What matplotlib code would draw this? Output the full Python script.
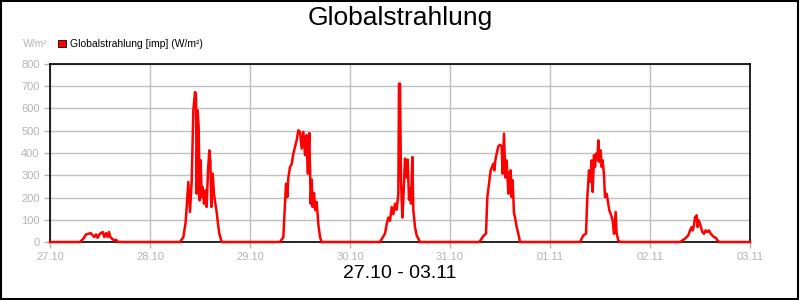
import numpy as np
import matplotlib
matplotlib.use("Agg")
import matplotlib.pyplot as plt
from matplotlib.patches import Rectangle

plt.rcParams['font.family'] = ['Liberation Sans', 'DejaVu Sans']

# hours since 27.10 00:00 and W/m2
day1_h = [7.2, 8.0, 8.64, 9.2, 9.76, 10.24, 10.64, 11.04, 11.44, 11.84, 12.24, 12.64,
          13.04, 13.44, 13.84, 14.16, 14.48, 14.88, 15.36, 15.84, 16.4]
day1_v = [0, 15, 34, 37, 40, 30, 22, 34, 19, 34, 40, 45,
          22, 40, 22, 45, 22, 15, 7, 10, 0]

day2_h = [31.2, 32.0, 32.56, 32.8, 33.2, 33.6, 34.0, 34.4, 34.8, 35.04, 35.2, 35.44,
          35.68, 35.92, 36.16, 36.4, 36.64, 36.96, 37.28, 37.6, 37.92, 38.24, 38.48,
          38.72, 39.04, 39.36, 39.68, 40.0, 40.32, 40.64, 41.2]
day2_v = [0, 22, 90, 157, 270, 135, 270, 591, 674, 666, 217, 591,
          516, 187, 367, 202, 247, 172, 232, 157, 322, 412, 367,
          157, 307, 217, 172, 135, 82, 37, 0]

day3_h = [55.2, 56.0, 56.64, 56.96, 57.2, 57.6, 58.0, 58.4, 59.2, 59.6, 60.0, 60.4,
          60.8, 61.2, 61.6, 61.84, 62.24, 62.56, 62.8, 63.04, 63.36, 63.68, 64.0,
          64.4, 64.8, 65.2]
day3_v = [0, 22, 262, 202, 289, 337, 350, 397, 457, 502, 495, 420,
          495, 390, 480, 307, 490, 172, 280, 157, 220, 143, 180,
          80, 22, 0]

day4_h = [79.2, 80.4, 80.8, 81.2, 81.6, 82.0, 82.4, 82.8, 83.2, 83.6, 83.76, 84.0,
          84.24, 84.56, 84.8, 85.2, 85.6, 85.84, 86.16, 86.4, 86.64, 86.96, 87.2,
          87.6, 88.0, 88.8]
day4_v = [0, 38, 80, 110, 95, 157, 125, 172, 145, 217, 712, 712,
          277, 110, 190, 375, 290, 370, 190, 240, 172, 382, 143,
          67, 30, 0]

day5_h = [103.04, 104.0, 104.64, 104.96, 105.36, 105.76, 106.08, 106.4, 106.64,
          106.88, 107.2, 107.6, 108.0, 108.4, 108.64, 108.96, 109.28, 109.6, 110.0,
          110.24, 110.56, 110.8, 111.04, 111.36, 111.6, 112.0, 112.4, 112.8]
day5_v = [0, 27, 38, 202, 262, 322, 337, 352, 322, 367, 397, 430, 437, 430, 307,
          487, 290, 367, 217, 307, 322, 202, 277, 127, 112, 67, 37, 0]

day6_h = [127.2, 128.0, 128.64, 128.96, 129.36, 129.76, 130.0, 130.24, 130.56, 130.8,
          131.04, 131.36, 131.6, 131.84, 132.16, 132.4, 132.64, 132.96, 133.2, 133.6,
          134.24, 134.56, 135.04, 135.36, 135.76, 136.0, 136.4, 136.8]
day6_v = [0, 30, 37, 202, 322, 270, 367, 225, 390, 337, 397, 367, 457, 360, 412,
          337, 367, 300, 202, 217, 142, 127, 97, 37, 135, 37, 8, 0]

day7_h = [151.2, 152.4, 153.2, 153.6, 154.0, 154.24, 154.56, 154.8, 155.04, 155.2,
          155.44, 155.68, 156.0, 156.24, 156.56, 156.96, 157.36, 157.76, 158.16,
          158.56, 158.96, 159.36, 159.84, 160.16, 160.64]
day7_v = [0, 15, 30, 52, 67, 52, 75, 112, 97, 120, 67, 97, 82, 67, 45, 37, 52, 45,
          52, 37, 30, 22, 18, 8, 0]

tick_labels = ['27.10', '28.10', '29.10', '30.10', '31.10', '01.11', '02.11', '03.11']

hours = [0] + day1_h + day2_h + day3_h + day4_h + day5_h + day6_h + day7_h + [168]
values = [0] + day1_v + day2_v + day3_v + day4_v + day5_v + day6_v + day7_v + [0]

gray = '#b4b4b4'

fig = plt.figure(figsize=(8, 3), dpi=100)
fig.patches.append(Rectangle((0.001, 0.002), 0.997, 0.995, transform=fig.transFigure,
                             fill=False, edgecolor='black', linewidth=1.5))
ax = fig.add_axes([50 / 800, 58 / 300, 700 / 800, 178 / 300])

ax.plot(hours, values, color='#ff0000', linewidth=1.8, clip_on=False, zorder=3)

ax.set_xlim(0, 168)
ax.set_ylim(0, 800)
ax.set_xticks(np.arange(0, 169, 24))
ax.set_xticklabels(tick_labels)
ax.set_yticks(np.arange(0, 801, 100))
ax.grid(True, color='#c0c0c0', linewidth=1.0)
ax.set_axisbelow(True)
ax.tick_params(colors=gray, labelcolor=gray, labelsize=8, length=4, width=1)
for s in ax.spines.values():
    s.set_color('black')
    s.set_linewidth(1.2)

fig.text(0.5, 0.94, 'Globalstrahlung', ha='center', va='center', fontsize=19)
fig.text(48 / 800, 1 - 44 / 300, 'W/m²', ha='right', va='center', fontsize=7.5, color=gray)
fig.patches.append(Rectangle((58 / 800, 1 - 47 / 300), 8 / 800, 7 / 300,
                             transform=fig.transFigure, facecolor='#ff0000',
                             edgecolor='black', linewidth=0.6))
fig.text(70 / 800, 1 - 44 / 300, 'Globalstrahlung [imp] (W/m²)', ha='left', va='center',
         fontsize=7.5, color='black')
fig.text(0.5, 1 - 274 / 300, '27.10 - 03.11', ha='center', va='center', fontsize=14)

fig.savefig('out.png', dpi=100)
